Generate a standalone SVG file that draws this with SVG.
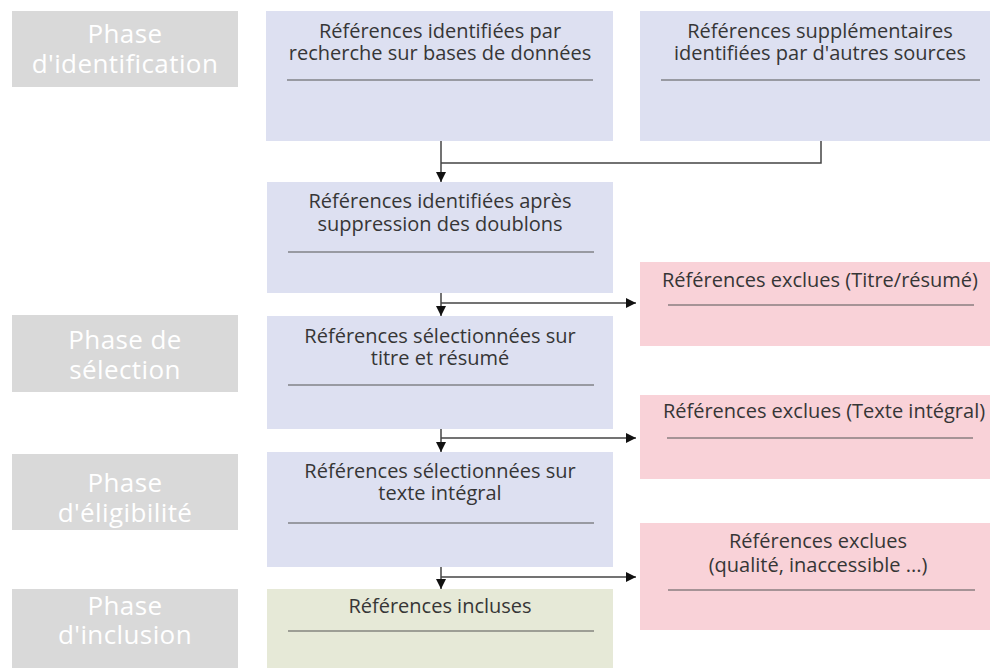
<svg xmlns="http://www.w3.org/2000/svg" width="990" height="668" viewBox="0 0 990 668">
  <defs>
    <marker id="arrow" viewBox="0 0 10 10" refX="10" refY="5" markerWidth="10" markerHeight="10" markerUnits="userSpaceOnUse" orient="auto">
      <path d="M0,0 L10,5 L0,10 z" fill="#111"/>
    </marker>
    <style>
      .phase { fill: #d9d9d9; }
      .phase-text { fill: #ffffff; font-family: "Open Sans", "Liberation Sans", sans-serif; font-size: 26px; letter-spacing: 0.4px; text-anchor: middle; }
      .blue { fill: #dde0f1; }
      .pink { fill: #f9d2d8; }
      .green { fill: #e6e9d7; }
      .label { fill: #363636; font-family: "Open Sans", "Liberation Sans", sans-serif; font-size: 20px; text-anchor: middle; }
      .rule { stroke: #555555; stroke-width: 1.2; }
      .conn { fill: none; stroke: #444444; stroke-width: 1.5; }
    </style>
  </defs>
  <rect width="990" height="668" fill="#ffffff"/>

  <!-- phase labels -->
  <g id="phase-identification">
    <rect class="phase" x="12" y="11" width="226" height="76"/>
    <text class="phase-text" x="125" y="43">Phase</text>
    <text class="phase-text" x="125" y="73">d'identification</text>
  </g>
  <g id="phase-selection">
    <rect class="phase" x="12" y="315" width="226" height="77"/>
    <text class="phase-text" x="125" y="349">Phase de</text>
    <text class="phase-text" x="125" y="379">sélection</text>
  </g>
  <g id="phase-eligibilite">
    <rect class="phase" x="12" y="454" width="226" height="76"/>
    <text class="phase-text" x="125" y="492">Phase</text>
    <text class="phase-text" x="125" y="522">d'éligibilité</text>
  </g>
  <g id="phase-inclusion">
    <rect class="phase" x="12" y="589" width="226" height="79"/>
    <text class="phase-text" x="125" y="615">Phase</text>
    <text class="phase-text" x="125" y="644">d'inclusion</text>
  </g>

  <!-- flow boxes -->
  <g id="ref-bases">
    <rect class="blue" x="266" y="11" width="347" height="130"/>
    <text class="label" x="440" y="38">Références identifiées par</text>
    <text class="label" x="440" y="60">recherche sur bases de données</text>
    <line class="rule" x1="287" y1="80" x2="593" y2="80"/>
  </g>
  <g id="ref-autres">
    <rect class="blue" x="640" y="11" width="350" height="130"/>
    <text class="label" x="820" y="38">Références supplémentaires</text>
    <text class="label" x="820" y="60">identifiées par d'autres sources</text>
    <line class="rule" x1="661" y1="80" x2="980" y2="80"/>
  </g>
  <g id="ref-doublons">
    <rect class="blue" x="267" y="182" width="346" height="111"/>
    <text class="label" x="440" y="208">Références identifiées après</text>
    <text class="label" x="440" y="231">suppression des doublons</text>
    <line class="rule" x1="288" y1="252" x2="594" y2="252"/>
  </g>
  <g id="exclues-titre">
    <rect class="pink" x="640" y="262" width="350" height="84"/>
    <text class="label" x="820" y="287">Références exclues (Titre/résumé)</text>
    <line class="rule" x1="668" y1="305" x2="974" y2="305"/>
  </g>
  <g id="ref-titre-resume">
    <rect class="blue" x="267" y="316" width="346" height="113"/>
    <text class="label" x="440" y="343">Références sélectionnées sur</text>
    <text class="label" x="440" y="365">titre et résumé</text>
    <line class="rule" x1="288" y1="385" x2="594" y2="385"/>
  </g>
  <g id="exclues-texte">
    <rect class="pink" x="640" y="395" width="350" height="84"/>
    <text class="label" x="824" y="418">Références exclues (Texte intégral)</text>
    <line class="rule" x1="667" y1="438" x2="973" y2="438"/>
  </g>
  <g id="ref-texte-integral">
    <rect class="blue" x="267" y="452" width="346" height="115"/>
    <text class="label" x="440" y="478">Références sélectionnées sur</text>
    <text class="label" x="440" y="500">texte intégral</text>
    <line class="rule" x1="288" y1="523" x2="594" y2="523"/>
  </g>
  <g id="exclues-qualite">
    <rect class="pink" x="640" y="523" width="350" height="107"/>
    <text class="label" x="818" y="548">Références exclues</text>
    <text class="label" x="818" y="572">(qualité, inaccessible ...)</text>
    <line class="rule" x1="668" y1="590" x2="975" y2="590"/>
  </g>
  <g id="ref-incluses">
    <rect class="green" x="267" y="589" width="346" height="79"/>
    <text class="label" x="440" y="613">Références incluses</text>
    <line class="rule" x1="288" y1="631" x2="594" y2="631"/>
  </g>

  <!-- connectors -->
  <g id="connectors">
    <polyline class="conn" points="821,141 821,163 441,163"/>
    <line class="conn" x1="441" y1="141" x2="441" y2="182" marker-end="url(#arrow)"/>
    <line class="conn" x1="441" y1="293" x2="441" y2="316" marker-end="url(#arrow)"/>
    <line class="conn" x1="441" y1="303" x2="636" y2="303" marker-end="url(#arrow)"/>
    <line class="conn" x1="441" y1="429" x2="441" y2="452" marker-end="url(#arrow)"/>
    <line class="conn" x1="441" y1="438" x2="636" y2="438" marker-end="url(#arrow)"/>
    <line class="conn" x1="441" y1="567" x2="441" y2="589" marker-end="url(#arrow)"/>
    <line class="conn" x1="441" y1="577" x2="636" y2="577" marker-end="url(#arrow)"/>
  </g>
</svg>
